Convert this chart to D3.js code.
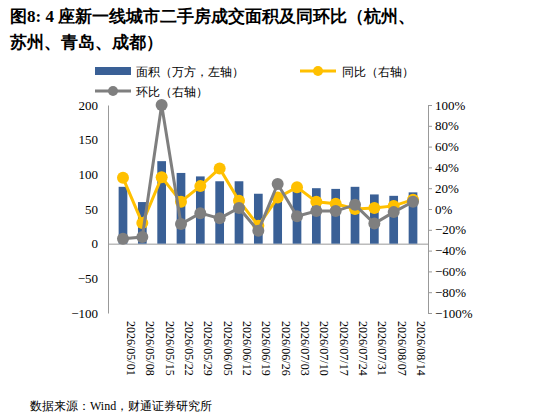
<!DOCTYPE html><html><head><meta charset="utf-8"><script src="https://cdn.jsdelivr.net/npm/d3@7"></script>
<style>body{margin:0;background:#fff}text{font-family:"Times New Roman","Liberation Serif",serif}</style></head><body><svg id="c" width="533" height="419"></svg><script>
const dates=["2026/05/01","2026/05/08","2026/05/15","2026/05/22","2026/05/29","2026/06/05","2026/06/12","2026/06/19","2026/06/26","2026/07/03","2026/07/10","2026/07/17","2026/07/24","2026/07/31","2026/08/07","2026/08/14"];
const area=[82,60,119,102,97,90,90,72,66,76,80,79,82,71,69,74];
const yoy=[30,-13.5,30.6,7,22,39,8,-16,11,21,7,5,0,1,3,9];
const mom=[-28.7,-27,100,-14.5,-4,-9,1,-21,24,-7,-2,-2,4,-14,-3,7];
const leftTicks=[-100,-50,0,50,100,150,200];
const rightTicks=d3.range(-100,101,20);
const svg=d3.select("#c");
const L=108,R=428,T=105,B=313;
svg.append("text").attr("x",10).attr("y",22).attr("font-size",17).attr("font-weight","bold").attr("font-family","Noto Sans CJK SC").text("图8: 4 座新一线城市二手房成交面积及同环比（杭州、");
svg.append("text").attr("x",10).attr("y",48).attr("font-size",17).attr("font-weight","bold").attr("font-family","Noto Sans CJK SC").text("苏州、青岛、成都）");
const x=d3.scaleBand().domain(dates).range([L,R]).padding(0.55);
const yl=d3.scaleLinear().domain([-100,200]).range([B,T]);
const yr=d3.scaleLinear().domain([-1,1]).range([B,T]);
const gl=svg.append("g").attr("transform",`translate(${L},0)`).call(d3.axisLeft(yl).tickValues(leftTicks).tickSize(0).tickPadding(10));
gl.selectAll("text").attr("font-size",13);
const gr=svg.append("g").attr("transform",`translate(${R},0)`).call(d3.axisRight(yr).tickValues(rightTicks.map(v=>v/100)).tickFormat(d3.format(".0%")).tickSizeInner(4).tickSizeOuter(0).tickPadding(3));
gr.selectAll("text").attr("font-size",13);
[gl,gr].forEach(g=>g.select(".domain").attr("stroke","#999"));
gr.selectAll("line").attr("stroke","#999");
const gx=svg.append("g").attr("transform",`translate(0,${yl(0)})`).call(d3.axisBottom(x).tickSize(0).tickFormat(""));
gx.select(".domain").attr("stroke","#999");
svg.append("g").selectAll("text").data(dates).join("text").attr("font-size",12)
 .attr("transform",d=>`translate(${x(d)+x.bandwidth()/2+4},${B+8}) rotate(90)`).text(d=>d);
svg.append("g").selectAll("rect").data(area).join("rect").attr("x",(d,i)=>x(dates[i])).attr("width",x.bandwidth())
 .attr("y",d=>yl(d)).attr("height",d=>yl(0)-yl(d)).attr("fill","#3a6096");
const cx=i=>x(dates[i])+x.bandwidth()/2;
function series(data,col){
 svg.append("path").datum(data).attr("fill","none").attr("stroke",col).attr("stroke-width",3).attr("d",d3.line().x((d,i)=>cx(i)).y(d=>yr(d/100)));
 svg.append("g").selectAll("circle").data(data).join("circle").attr("cx",(d,i)=>cx(i)).attr("cy",d=>yr(d/100)).attr("r",6).attr("fill",col);
}
series(yoy,"#ffc000");series(mom,"#7f7f7f");
const lg=svg.append("g").attr("font-family","Noto Sans CJK SC");
lg.append("rect").attr("x",95).attr("y",67).attr("width",36).attr("height",8).attr("fill","#3a6096");
lg.append("text").attr("x",136).attr("y",76).attr("font-size",12).attr("font-family","Noto Sans CJK SC").text("面积（万方，左轴）");
lg.append("line").attr("x1",300).attr("x2",336).attr("y1",71).attr("y2",71).attr("stroke","#ffc000").attr("stroke-width",3);
lg.append("circle").attr("cx",318).attr("cy",71).attr("r",5).attr("fill","#ffc000");
lg.append("text").attr("x",342).attr("y",76).attr("font-size",12).attr("font-family","Noto Sans CJK SC").text("同比（右轴）");
lg.append("line").attr("x1",95).attr("x2",131).attr("y1",91).attr("y2",91).attr("stroke","#7f7f7f").attr("stroke-width",3);
lg.append("circle").attr("cx",113).attr("cy",91).attr("r",5).attr("fill","#7f7f7f");
lg.append("text").attr("x",136).attr("y",96).attr("font-size",12).attr("font-family","Noto Sans CJK SC").text("环比（右轴）");
svg.append("text").attr("x",30).attr("y",410).attr("font-size",12).attr("font-family","Noto Sans CJK SC").text("数据来源：Wind，财通证券研究所");
</script></body></html>
